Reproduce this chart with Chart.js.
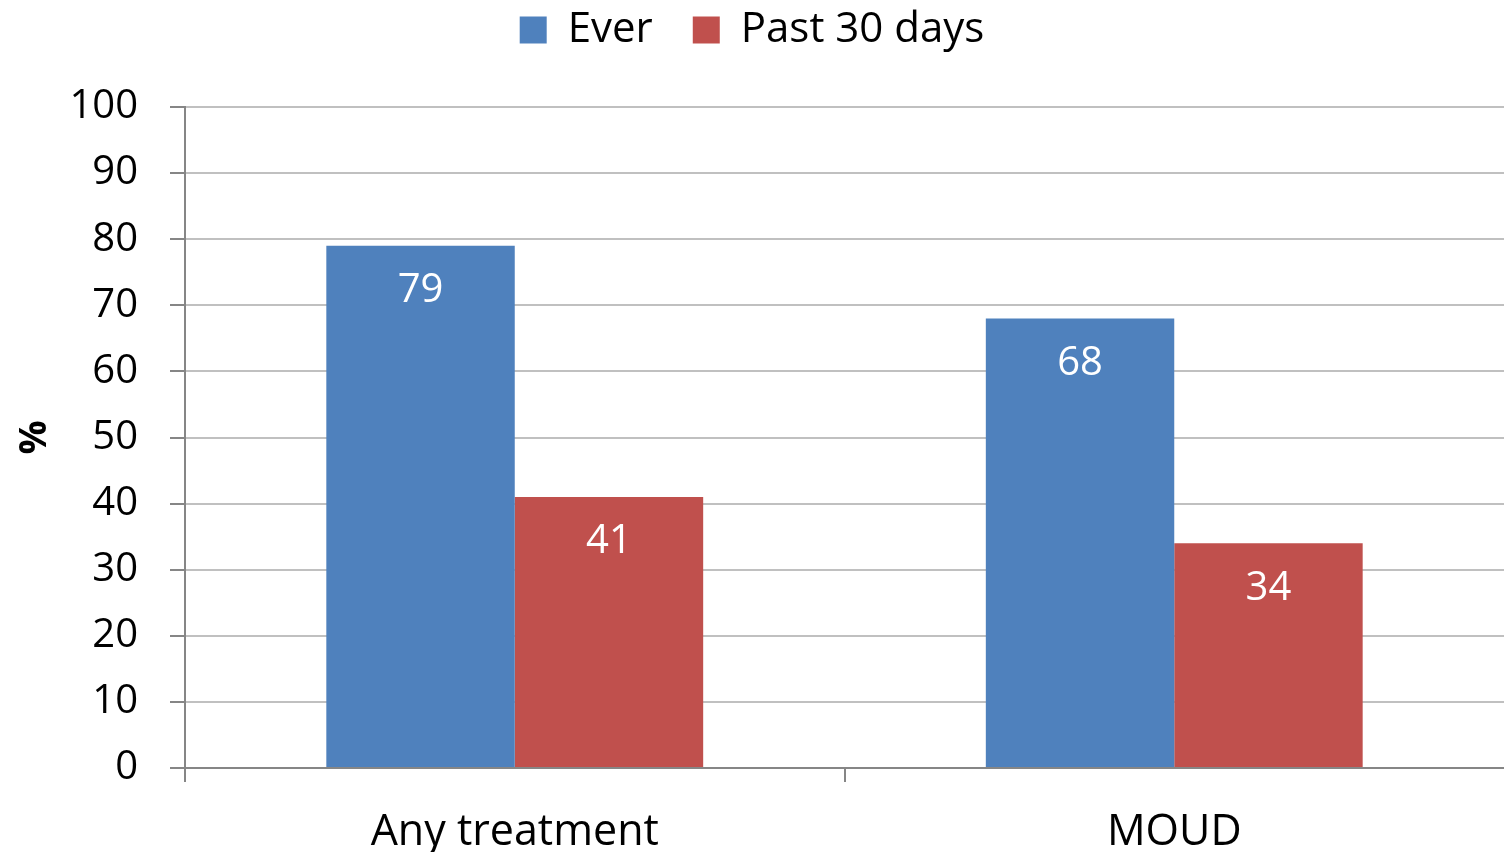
<!DOCTYPE html>
<html>
<head>
<meta charset="utf-8">
<script src="https://cdn.jsdelivr.net/npm/chart.js@4/dist/chart.umd.min.js"></script>
<style>
  html, body { margin: 0; padding: 0; background: #ffffff; }
  #wrap { width: 1504px; height: 852px; }
</style>
</head>
<body>
<div id="wrap"><canvas id="chart" width="1504" height="852"></canvas></div>
<script>
// Treatment categories and the two reporting periods (%)
const categories = ['Any treatment', 'MOUD'];
const everValues = [79, 68];
const past30Values = [41, 34];
const seriesNames = ['Ever', 'Past 30 days'];
const yTicks = [0, 10, 20, 30, 40, 50, 60, 70, 80, 90, 100];

const FONT = '"Open Sans", "Liberation Sans", sans-serif';
const AXIS_GREY = '#868686';
const GRID_GREY = '#c0c0c0';

// White value labels just inside the top of each bar
const valueLabels = {
  id: 'valueLabels',
  afterDatasetsDraw(chart) {
    const ctx = chart.ctx;
    ctx.save();
    ctx.fillStyle = '#ffffff';
    ctx.font = '40px ' + FONT;
    ctx.textAlign = 'center';
    ctx.textBaseline = 'middle';
    chart.data.datasets.forEach((ds, i) => {
      chart.getDatasetMeta(i).data.forEach((bar, j) => {
        ctx.fillText(String(ds.data[j]), bar.x, bar.y + 45);
      });
    });
    ctx.restore();
  }
};

new Chart(document.getElementById('chart'), {
  type: 'bar',
  data: {
    labels: categories,
    datasets: [
      { label: seriesNames[0], data: everValues, backgroundColor: '#4f81bd',
        categoryPercentage: 2 / 3.5, barPercentage: 1 },
      { label: seriesNames[1], data: past30Values, backgroundColor: '#c0504d',
        categoryPercentage: 2 / 3.5, barPercentage: 1 }
    ]
  },
  options: {
    responsive: false,
    devicePixelRatio: 1,
    animation: false,
    layout: { padding: { top: -31, left: 0, right: 0, bottom: 0 } },
    plugins: {
      tooltip: { enabled: false },
      legend: {
        position: 'top',
        labels: {
          font: { family: FONT, size: 42 },
          color: '#000000',
          boxWidth: 27,
          boxHeight: 27,
          padding: 40
        }
      },
      // empty spacer between the legend and the plot area
      title: {
        display: true,
        text: ' ',
        position: 'top',
        weight: 500,
        font: { size: 10 },
        padding: { top: 0, bottom: 34 }
      }
    },
    scales: {
      x: {
        offset: true,
        grid: {
          offset: true,
          drawOnChartArea: false,
          tickLength: 14,
          // category dividers, without one at the far right edge
          tickColor: (c) => (c.type === 'tick' ? AXIS_GREY : 'rgba(0,0,0,0)'),
          lineWidth: 2
        },
        border: { color: AXIS_GREY, width: 2 },
        ticks: {
          font: { family: FONT, size: 43 },
          color: '#000000',
          padding: 25,
          maxRotation: 0
        },
        afterFit(scale) { scale.height = 84; }
      },
      y: {
        min: 0,
        max: 100,
        afterBuildTicks(scale) { scale.ticks = yTicks.map(v => ({ value: v })); },
        grid: {
          color: GRID_GREY,
          tickColor: AXIS_GREY,
          tickLength: 15,
          lineWidth: 2
        },
        border: { color: AXIS_GREY, width: 2 },
        ticks: {
          font: { family: FONT, size: 40 },
          color: '#000000',
          padding: 32
        },
        title: {
          display: true,
          text: '%',
          font: { family: FONT, size: 38, weight: 'bold' },
          color: '#000000',
          padding: { top: 12, bottom: 0 }
        },
        afterFit(scale) {
          scale.width = 185;
        }
      }
    }
  },
  plugins: [valueLabels]
});
</script>
</body>
</html>
